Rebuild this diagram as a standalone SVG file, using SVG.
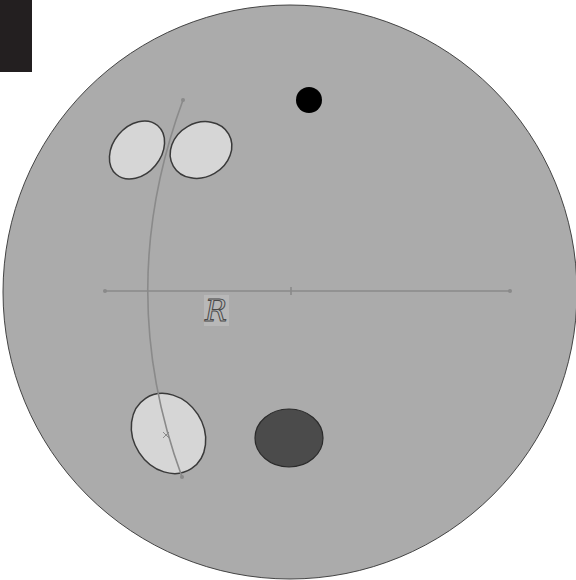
<svg xmlns="http://www.w3.org/2000/svg" width="576" height="580" viewBox="0 0 576 580">
<style>
.light{fill:#d6d6d6;stroke:#3a3a3a;stroke-width:1.5}
.guide{fill:none;stroke:#8a8a8a;stroke-width:1.6}
.dot{fill:#8a8a8a}
</style>
<rect width="576" height="580" fill="#ffffff"/>
<rect x="0" y="0" width="32" height="72" fill="#231f20"/>
<g id="disc"><circle cx="290" cy="292" r="287" fill="#ababab" stroke="#444" stroke-width="1"/></g>
<g id="blackdot"><circle cx="309" cy="100" r="13" fill="#000"/></g>
<g id="ellipse1"><ellipse cx="137" cy="150" rx="32" ry="24" transform="rotate(-50 137 150)" class="light"/></g>
<g id="ellipse2"><ellipse cx="201" cy="150" rx="32" ry="27" transform="rotate(-30 201 150)" class="light"/></g>
<g id="ellipse3"><ellipse cx="168.5" cy="433.5" rx="42" ry="35" transform="rotate(57 168.5 433.5)" class="light"/></g>
<g id="darkellipse"><ellipse cx="289" cy="438" rx="34" ry="29" fill="#4b4b4b" stroke="#2a2a2a" stroke-width="1.2"/></g>
<g id="connectors">
<line x1="105" y1="291" x2="510" y2="291" class="guide"/>
<line x1="291" y1="287" x2="291" y2="295" class="guide" stroke-width="1"/>
<circle cx="105" cy="291" r="2" class="dot"/>
<circle cx="510" cy="291" r="2" class="dot"/>
<path d="M183,100 Q113,290 182,477" class="guide"/>
<circle cx="183" cy="100" r="2" class="dot"/>
<circle cx="182" cy="477" r="2" class="dot"/>
<path d="M163,432 L169,438 M169,432 L163,438" stroke="#8a8a8a" stroke-width="1"/>
</g>
<g id="label">
<rect x="204" y="295" width="25" height="31" fill="#b8b8b8"/>
<text x="216" y="321" font-family="DejaVu Serif, serif" font-style="italic" font-size="29" fill="#b8b8b8" stroke="#4a4a4a" stroke-width="1" text-anchor="middle">R</text>
</g>
</svg>
